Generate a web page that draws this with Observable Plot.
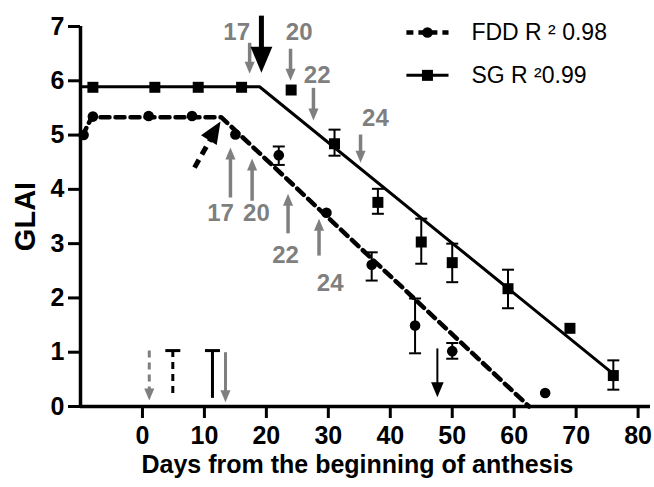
<!DOCTYPE html>
<html><head><meta charset="utf-8">
<script src="https://cdn.jsdelivr.net/npm/d3@7"></script>
<script src="https://cdn.jsdelivr.net/npm/@observablehq/plot@0.6"></script>
<style>
body{margin:0;background:#fff;}
#chart svg{font-family:"Liberation Sans", Arial, sans-serif;}
#chart g[aria-label="x-axis tick label"] text, #chart g[aria-label="y-axis tick label"] text{font-weight:bold;}
</style>
</head><body><div id="chart"></div>
<script>
// Axis ticks
const xTicks = [0, 10, 20, 30, 40, 50, 60, 70, 80];
const yTicks = [0, 1, 2, 3, 4, 5, 6, 7];

// SG (stay-green) observations
const sgDays = [-8, 2, 9, 16, 24, 31, 38, 45, 50, 59, 69, 76];
const sgGlai = [5.88, 5.88, 5.88, 5.88, 5.83, 4.84, 3.76, 3.03, 2.65, 2.17, 1.44, 0.57];
const sgLow  = [null, null, null, null, null, 4.62, 3.55, 2.63, 2.29, 1.81, null, 0.31];
const sgHigh = [null, null, null, null, null, 5.10, 4.01, 3.46, 3.00, 2.52, null, 0.85];
// SG fitted model
const sgFitDays = [-10, 18.9, 76];
const sgFitGlai = [5.89, 5.89, 0.6];

// FDD observations
const fddDays = [-9.5, -8, 1, 8, 15, 22, 29.7, 37, 44, 50, 65];
const fddGlai = [5.0, 5.34, 5.35, 5.35, 5.01, 4.63, 3.57, 2.61, 1.49, 1.02, 0.25];
const fddLow  = [null, null, null, null, null, 4.45, null, 2.32, 0.98, 0.88, null];
const fddHigh = [null, null, null, null, null, 4.79, null, 2.84, 1.99, 1.17, null];
// FDD fitted model
const fddFitDays = [-9.7, -8.2, 12.7, 62.4];
const fddFitGlai = [4.98, 5.33, 5.33, 0];

// Grey arrows pointing down onto SG curve (labels = stage)
const sgArrowDays = [17.3, 23.9, 27.6, 35.2];
const sgArrowFrom = [6.70, 6.59, 5.87, 5.01];
const sgArrowTo   = [6.13, 6.00, 5.27, 4.49];
const sgArrowLabels = ["17", "20", "22", "24"];
const sgLabelDays = [15.2, 25.3, 28.2, 37.6];
const sgLabelGlai = [6.89, 6.89, 6.10, 5.30];

// Grey arrows pointing up onto FDD curve
const fddArrowDays = [14.2, 17.7, 23.5, 28.5];
const fddArrowFrom = [3.85, 3.79, 3.19, 2.78];
const fddArrowTo   = [4.77, 4.57, 3.92, 3.46];
const fddArrowLabels = ["17", "20", "22", "24"];
const fddLabelDays = [12.6, 18.4, 23.1, 30.3];
const fddLabelGlai = [3.55, 3.55, 2.78, 2.27];

// Black arrows (break points / end)
const sgBreakArrow = {x1: 19.2, y1: 7.2, x2: 19.2, y2: 6.15};
const fddBreakArrow = {x1: 8.4, y1: 4.40, x2: 12.6, y2: 5.25};
const endArrow = {x1: 47.6, y1: 1.07, x2: 47.6, y2: 0.17};

// Bottom-left markers
const greyDashArrow = {x1: 1.1, y1: 1.03, x2: 1.1, y2: 0.11};
const dashT = {x: 4.9, y1: 1.03, y2: 0.2};
const solidT = {x: 11.3, y1: 1.03, y2: 0.15};
const greyArrow = {x1: 13.4, y1: 1.0, x2: 13.4, y2: 0.08};

const legendLabels = ["FDD R \u00B2 0.98", "SG R \u00B20.99"];

// ---- tables built from arrays ----
const sg = sgDays.map((d, i) => ({day: d, glai: sgGlai[i], lo: sgLow[i], hi: sgHigh[i]}));
const fdd = fddDays.map((d, i) => ({day: d, glai: fddGlai[i], lo: fddLow[i], hi: fddHigh[i]}));
const sgFit = sgFitDays.map((d, i) => ({day: d, glai: sgFitGlai[i]}));
const fddFit = fddFitDays.map((d, i) => ({day: d, glai: fddFitGlai[i]}));
const errs = [...sg, ...fdd].filter(d => d.lo != null);
const sgArrows = sgArrowDays.map((d, i) => ({x: d, y1: sgArrowFrom[i], y2: sgArrowTo[i]}));
const fddArrows = fddArrowDays.map((d, i) => ({x: d, y1: fddArrowFrom[i], y2: fddArrowTo[i]}));
const sgLabels = sgArrowLabels.map((t, i) => ({t, x: sgLabelDays[i], y: sgLabelGlai[i]}));
const fddLabels = fddArrowLabels.map((t, i) => ({t, x: fddLabelDays[i], y: fddLabelGlai[i]}));

// custom symbols
const head = (f) => ({draw(ctx, size) {
  const l = Math.sqrt(size / Math.PI), w = l * f;
  ctx.moveTo(0, 0); ctx.lineTo(-w, -l); ctx.lineTo(w, -l); ctx.closePath();
}});
const headSym = head(0.42);
const capSym = {draw(ctx, size) {
  const r = Math.sqrt(size / Math.PI);
  ctx.moveTo(-r, 0); ctx.lineTo(r, 0);
}};
const grey = "#7f7f7f";

function arrowMarks(data, {stroke, width, len, rot, dash}) {
  return [
    Plot.arrow(data, {x1: "x1", y1: "y1", x2: "x2", y2: "y2", headLength: 0, insetEnd: len * 0.6,
      stroke, strokeWidth: width, strokeLinecap: "butt", strokeDasharray: dash}),
    Plot.dot(data, {x: "x2", y: "y2", symbol: headSym, r: len, rotate: rot, fill: stroke, stroke: "none"})
  ];
}

const chart = Plot.plot({
  width: 654, height: 487,
  marginLeft: 80, marginRight: 4, marginTop: 26, marginBottom: 81,
  style: {fontFamily: "Liberation Sans, Arial, sans-serif", color: "black", background: "white"},
  x: {domain: [-10, 82]},
  y: {domain: [0, 7]},
  marks: [
    Plot.axisY({ticks: yTicks, tickFormat: "d", tickSize: 12, tickPadding: 4, fontSize: 25, fontWeight: "bold", strokeWidth: 3, label: null}),
    Plot.axisX({ticks: xTicks, tickFormat: "d", tickSize: 12, tickPadding: 8, fontSize: 25, fontWeight: "bold", strokeWidth: 3, label: null}),
    Plot.ruleX([-10], {strokeWidth: 3.5}),
    Plot.ruleY([0], {strokeWidth: 3.5}),
    // fitted lines
    Plot.line(sgFit, {x: "day", y: "glai", stroke: "black", strokeWidth: 3}),
    Plot.line(fddFit, {x: "day", y: "glai", stroke: "black", strokeWidth: 4.5, strokeDasharray: "9,6"}),
    // error bars
    Plot.ruleX(errs, {x: "day", y1: "lo", y2: "hi", stroke: "black", strokeWidth: 2}),
    Plot.dot(errs, {x: "day", y: "lo", symbol: capSym, r: 6, stroke: "black", strokeWidth: 2, fill: "none"}),
    Plot.dot(errs, {x: "day", y: "hi", symbol: capSym, r: 6, stroke: "black", strokeWidth: 2, fill: "none"}),
    // points
    Plot.dot(sg, {x: "day", y: "glai", symbol: "square", r: 6.2, fill: "black", stroke: "none"}),
    Plot.dot(fdd, {x: "day", y: "glai", symbol: "circle", r: 5.3, fill: "black", stroke: "none"}),
    // grey stage arrows
    ...arrowMarks(sgArrows.map(d => ({x1: d.x, y1: d.y1, x2: d.x, y2: d.y2})), {stroke: grey, width: 3.5, len: 12, rot: 0}),
    ...arrowMarks(fddArrows.map(d => ({x1: d.x, y1: d.y1, x2: d.x, y2: d.y2})), {stroke: grey, width: 3.5, len: 12, rot: 180}),
    Plot.text(sgLabels, {x: "x", y: "y", text: "t", fill: grey, fontSize: 24, fontWeight: "bold"}),
    Plot.text(fddLabels, {x: "x", y: "y", text: "t", fill: grey, fontSize: 24, fontWeight: "bold"}),
    // black arrows
    ...arrowMarks([sgBreakArrow], {stroke: "black", width: 5, len: 26, rot: 0}),
    ...arrowMarks([fddBreakArrow], {stroke: "black", width: 5, len: 22, rot: 212, dash: "9,6"}),
    ...arrowMarks([endArrow], {stroke: "black", width: 2, len: 15, rot: 0}),
    // bottom-left markers
    ...arrowMarks([greyDashArrow], {stroke: grey, width: 3, len: 12, rot: 0, dash: "7,5"}),
    ...arrowMarks([greyArrow], {stroke: grey, width: 3, len: 12, rot: 0}),
    Plot.ruleX([dashT], {x: "x", y1: "y1", y2: "y2", stroke: "black", strokeWidth: 3, strokeDasharray: "7,5"}),
    Plot.dot([dashT], {x: "x", y: "y1", symbol: capSym, r: 7.5, stroke: "black", strokeWidth: 3, fill: "none"}),
    Plot.ruleX([solidT], {x: "x", y1: "y1", y2: "y2", stroke: "black", strokeWidth: 3}),
    Plot.dot([solidT], {x: "x", y: "y1", symbol: capSym, r: 7.5, stroke: "black", strokeWidth: 3, fill: "none"}),
    // legend
    Plot.link([0], {x1: 42.6, x2: 49.4, y1: 6.89, y2: 6.89, stroke: "black", strokeWidth: 4.5, strokeDasharray: "7,5"}),
    Plot.dot([0], {x: 46, y: 6.89, r: 5.3, fill: "black", stroke: "none"}),
    Plot.link([0], {x1: 42.6, x2: 49.4, y1: 6.10, y2: 6.10, stroke: "black", strokeWidth: 3}),
    Plot.dot([0], {x: 46, y: 6.10, symbol: "square", r: 6.2, fill: "black", stroke: "none"}),
    Plot.text([legendLabels[0]], {x: 53.1, y: 6.89, text: d => d, textAnchor: "start", fontSize: 23}),
    Plot.text([legendLabels[1]], {x: 53.1, y: 6.10, text: d => d, textAnchor: "start", fontSize: 23}),
    // axis titles
    Plot.text(["GLAI"], {frameAnchor: "left", text: d => d, dx: -55, rotate: -90, textAnchor: "middle", lineAnchor: "middle", fontSize: 29, fontWeight: "bold"}),
    Plot.text(["Days from the beginning of anthesis"], {frameAnchor: "bottom", text: d => d, dx: -8, dy: 58, textAnchor: "middle", lineAnchor: "middle", fontSize: 25, fontWeight: "bold"})
  ]
});
document.getElementById("chart").append(chart);
</script></body></html>
